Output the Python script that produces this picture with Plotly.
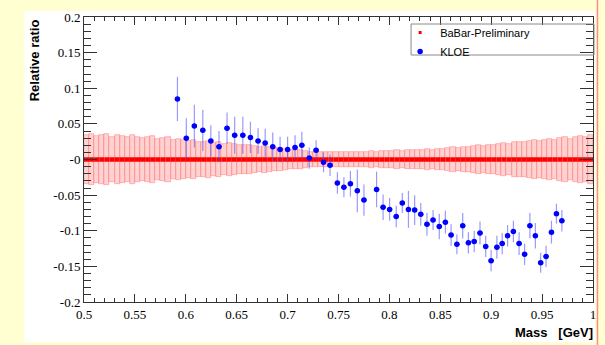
import numpy as np
import plotly.graph_objects as go

# ---------------- data ----------------
# BaBar-Preliminary: relative ratio 0 with uncertainty band (5 MeV bins from 0.5 to 1.0 GeV)
BABAR_BIN_LO = 0.5
BABAR_BIN_W = 0.005
babar_err = [
    0.035, 0.036, 0.033, 0.034, 0.036, 0.032, 0.034, 0.033, 0.031, 0.034,
    0.032, 0.030, 0.031, 0.033, 0.029, 0.030, 0.031, 0.028, 0.029, 0.027,
    0.026, 0.027, 0.025, 0.024, 0.026, 0.023, 0.024, 0.022, 0.023, 0.022,
    0.021, 0.020, 0.021, 0.019, 0.018, 0.019, 0.017, 0.016, 0.016, 0.015,
    0.014, 0.013, 0.013, 0.012, 0.011, 0.011, 0.010, 0.011, 0.010, 0.010,
    0.010, 0.011, 0.010, 0.011, 0.011, 0.010, 0.012, 0.011, 0.012, 0.012,
    0.012, 0.013, 0.012, 0.013, 0.014, 0.013, 0.014, 0.015, 0.014, 0.015,
    0.015, 0.016, 0.017, 0.016, 0.018, 0.017, 0.019, 0.020, 0.019, 0.021,
    0.021, 0.022, 0.023, 0.022, 0.024, 0.025, 0.024, 0.026, 0.027, 0.026,
    0.028, 0.029, 0.027, 0.030, 0.031, 0.029, 0.032, 0.033, 0.031, 0.034,
]
babar_mass = BABAR_BIN_LO + BABAR_BIN_W * (np.arange(len(babar_err)) + 0.5)
babar_val = [0.0] * len(babar_err)

# KLOE relative ratio
kloe_mass = [
    0.5918, 0.6005, 0.6084, 0.6167, 0.6246, 0.6326, 0.6405, 0.6480, 0.6560, 0.6635,
    0.6710, 0.6780, 0.6854, 0.6926, 0.7000, 0.7073, 0.7140, 0.7213, 0.7280, 0.7353,
    0.7417, 0.7489, 0.7553, 0.7617, 0.7685, 0.7750, 0.7874, 0.7938, 0.8002, 0.8067,
    0.8127, 0.8187, 0.8248, 0.8308, 0.8369, 0.8429, 0.8490, 0.8550, 0.8606, 0.8663,
    0.8720, 0.8776, 0.8833, 0.8890, 0.8946, 0.8999, 0.9056, 0.9108, 0.9161, 0.9218,
    0.9274, 0.9328, 0.9380, 0.9434, 0.9486, 0.9539, 0.9592, 0.9641, 0.9694,
]
kloe_val = [
    0.085, 0.030, 0.047, 0.041, 0.026, 0.018, 0.044, 0.034, 0.034, 0.031,
    0.026, 0.023, 0.018, 0.014, 0.014, 0.017, 0.020, 0.002, 0.013, -0.004,
    -0.008, -0.033, -0.039, -0.034, -0.044, -0.057, -0.042, -0.067, -0.070, -0.080,
    -0.061, -0.070, -0.071, -0.077, -0.091, -0.085, -0.094, -0.088, -0.106, -0.119,
    -0.093, -0.117, -0.115, -0.103, -0.122, -0.142, -0.123, -0.118, -0.107, -0.101,
    -0.118, -0.133, -0.093, -0.107, -0.145, -0.136, -0.102, -0.076, -0.086,
]
kloe_err = [
    0.031, 0.028, 0.030, 0.029, 0.022, 0.022, 0.022, 0.026, 0.026, 0.022,
    0.018, 0.020, 0.020, 0.018, 0.018, 0.017, 0.019, 0.015, 0.014, 0.014,
    0.015, 0.015, 0.014, 0.018, 0.030, 0.022, 0.025, 0.018, 0.016, 0.015,
    0.014, 0.026, 0.021, 0.016, 0.016, 0.014, 0.018, 0.016, 0.015, 0.014,
    0.018, 0.015, 0.015, 0.016, 0.015, 0.015, 0.016, 0.015, 0.015, 0.015,
    0.016, 0.015, 0.018, 0.018, 0.014, 0.015, 0.016, 0.014, 0.015,
]

x_tickvals = [0.5, 0.55, 0.6, 0.65, 0.7, 0.75, 0.8, 0.85, 0.9, 0.95, 1.0]
x_ticktext = ["0.5", "0.55", "0.6", "0.65", "0.7", "0.75", "0.8", "0.85", "0.9", "0.95", "1"]
y_tickvals = [0.2, 0.15, 0.1, 0.05, 0.0, -0.05, -0.1, -0.15, -0.2]
y_ticktext = ["0.2", "0.15", "0.1", "0.05", "-0", "-0.05", "-0.1", "-0.15", "-0.2"]

# ---------------- figure ----------------
W, H = 605, 345
ML, MR, MT, MB = 84, 9, 17, 43
PW, PH = W - ML - MR, H - MT - MB


def px_x(p):
    return (p - ML) / PW


def px_y(p):
    return (H - MB - p) / PH


fig = go.Figure()

err_arr = np.array(babar_err)
fig.add_trace(go.Bar(
    x=babar_mass, y=2 * err_arr, base=-err_arr, width=BABAR_BIN_W,
    marker=dict(color="rgba(255,180,180,0.6)",
                line=dict(color="rgba(255,110,110,0.75)", width=0.6)),
    showlegend=False, hoverinfo="skip",
))

fig.add_trace(go.Scatter(
    x=babar_mass, y=babar_val, mode="markers", name="BaBar-Preliminary",
    marker=dict(symbol="square", size=3, color="#ff0000"),
    error_x=dict(type="constant", value=BABAR_BIN_W / 2, thickness=4.5,
                 width=0, color="#ff0000"),
))

fig.add_trace(go.Scatter(
    x=kloe_mass, y=kloe_val, mode="markers", name="KLOE",
    marker=dict(symbol="circle", size=5.5, color="#0000ff"),
    error_y=dict(type="data", array=kloe_err, thickness=1.2, width=0,
                 color="rgba(70,70,255,0.55)"),
    error_x=dict(type="constant", value=0.0025, thickness=1.5, width=0,
                 color="#0000ff"),
))

tickfont = dict(family="Liberation Serif, Times New Roman, serif", size=13, color="#000")

fig.update_xaxes(
    range=[0.5, 1.0], tickvals=x_tickvals, ticktext=x_ticktext,
    ticks="inside", ticklen=8, tickwidth=1, tickcolor="#333",
    minor=dict(ticks="inside", ticklen=4, dtick=0.01, tick0=0.5, tickcolor="#333"),
    showline=True, linecolor="#333", linewidth=1, mirror="allticks",
    showgrid=False, zeroline=False, tickfont=tickfont,
)
fig.update_yaxes(
    range=[-0.2, 0.2], tickvals=y_tickvals, ticktext=y_ticktext,
    ticks="inside", ticklen=13, tickwidth=1, tickcolor="#333",
    minor=dict(ticks="inside", ticklen=7, dtick=0.01, tick0=0.0, tickcolor="#333"),
    showline=True, linecolor="#333", linewidth=1, mirror="allticks",
    showgrid=False, zeroline=False, tickfont=tickfont,
)

shapes = [
    # white panel behind the chart
    dict(type="rect", xref="paper", yref="paper", layer="below",
         x0=px_x(24), x1=px_x(598), y0=px_y(342), y1=px_y(11),
         fillcolor="#ffffff", line=dict(width=0)),
    # thin red edge on the right
    dict(type="line", xref="paper", yref="paper", layer="below",
         x0=px_x(600.5), x1=px_x(600.5), y0=px_y(345), y1=px_y(0),
         line=dict(color="#ff8a8a", width=1.5)),
    # legend box
    dict(type="rect", xref="paper", yref="paper", layer="above",
         x0=px_x(413), x1=px_x(597), y0=px_y(55), y1=px_y(24),
         fillcolor="rgba(0,0,0,0)", line=dict(color="#8a8a8a", width=1)),
]

annotations = [
    dict(text="<b>Relative ratio</b>", xref="paper", yref="paper",
         x=px_x(34), y=px_y(17), xanchor="center", yanchor="top",
         textangle=-90, showarrow=False,
         font=dict(family="Liberation Sans, Arial, sans-serif", size=13, color="#000")),
    dict(text="<b>Mass   [GeV]</b>", xref="paper", yref="paper",
         x=px_x(598), y=px_y(333), xanchor="right", yanchor="middle",
         showarrow=False,
         font=dict(family="Liberation Sans, Arial, sans-serif", size=13, color="#000")),
]

fig.update_layout(
    width=W, height=H,
    margin=dict(l=ML, r=MR, t=MT, b=MB),
    paper_bgcolor="#ffffd2", plot_bgcolor="#ffffff",
    barmode="overlay", bargap=0,
    showlegend=True,
    legend=dict(x=px_x(402), y=px_y(18), xanchor="left", yanchor="top",
                bgcolor="rgba(0,0,0,0)", borderwidth=0,
                font=dict(family="Liberation Sans, Arial, sans-serif", size=11, color="#000"),
                tracegroupgap=0),
    shapes=shapes, annotations=annotations,
)

fig.write_html("out.html")
